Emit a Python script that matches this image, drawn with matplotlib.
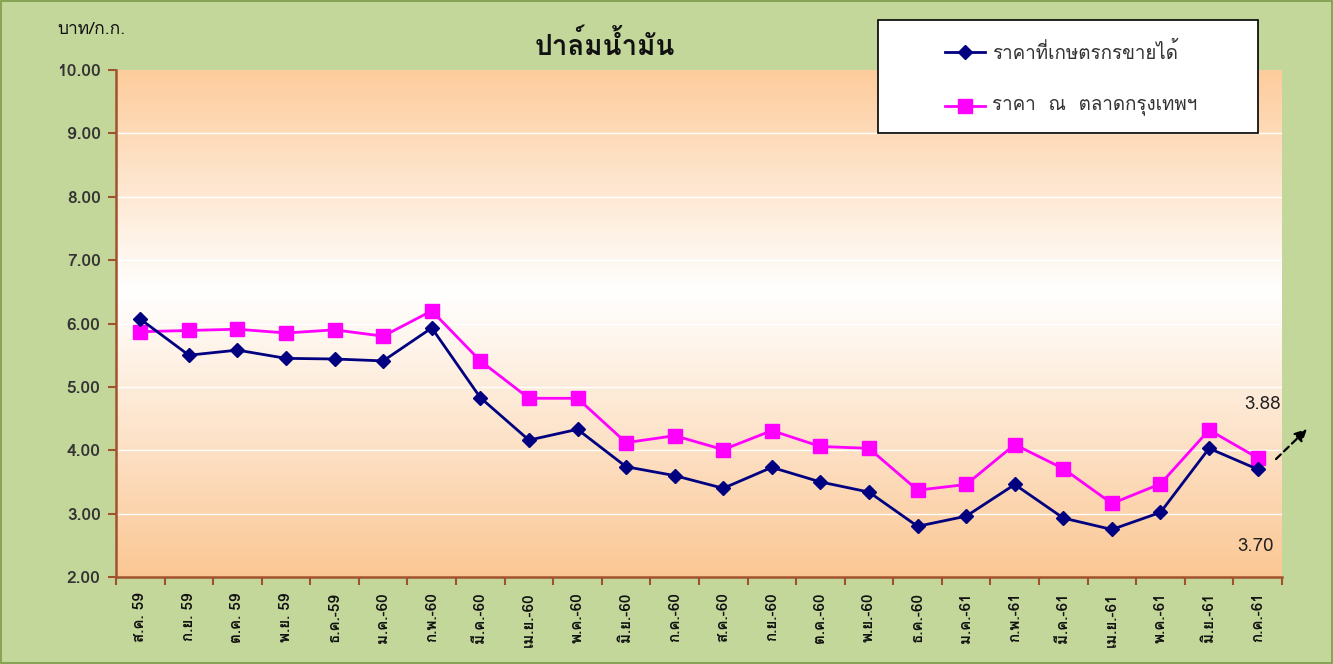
import matplotlib
matplotlib.use("Agg")
import matplotlib.pyplot as plt
import numpy as np
from matplotlib.colors import LinearSegmentedColormap
from matplotlib.lines import Line2D
from matplotlib.patches import Rectangle

plt.rcParams["font.family"] = ["Loma", "DejaVu Sans"]

MONTHS = [
    "ส.ค. 59", "ก.ย. 59", "ต.ค. 59", "พ.ย. 59", "ธ.ค.-59", "ม.ค.-60",
    "ก.พ.-60", "มี.ค.-60", "เม.ย.-60", "พ.ค.-60", "มิ.ย.-60", "ก.ค.-60",
    "ส.ค.-60", "ก.ย.-60", "ต.ค.-60", "พ.ย.-60", "ธ.ค.-60", "ม.ค.-61",
    "ก.พ.-61", "มี.ค.-61", "เม.ย.-61", "พ.ค.-61", "มิ.ย.-61", "ก.ค.-61",
]
FARM_PRICE = [
    6.07, 5.50, 5.58, 5.45, 5.44, 5.41, 5.93, 4.83, 4.16, 4.33, 3.74, 3.60,
    3.40, 3.73, 3.50, 3.34, 2.80, 2.96, 3.46, 2.93, 2.75, 3.02, 4.03, 3.70,
]
BKK_PRICE = [
    5.87, 5.89, 5.91, 5.85, 5.90, 5.80, 6.20, 5.41, 4.82, 4.82, 4.12, 4.23,
    4.01, 4.31, 4.06, 4.03, 3.37, 3.46, 4.09, 3.71, 3.16, 3.47, 4.32, 3.88,
]
SERIES_LABELS = ["ราคาที่เกษตรกรขายได้", "ราคา  ณ  ตลาดกรุงเทพฯ"]
Y_TICKS = [2, 3, 4, 5, 6, 7, 8, 9, 10]

BG_GREEN = "#C4D79B"
AXIS_BROWN = "#A0522D"
NAVY = "#000080"
MAGENTA = "#FF00FF"


def main():
    fig = plt.figure(figsize=(13.33, 6.64), dpi=100, facecolor=BG_GREEN)
    fig.patches.append(Rectangle((0.001, 0.002), 0.998, 0.996, transform=fig.transFigure,
                                 fill=False, edgecolor="#7F9A48", linewidth=1.2))

    ax = fig.add_axes([0.0870, 0.1310, 0.8747, 0.7636])
    x = np.arange(len(MONTHS))
    ax.set_xlim(-0.5, len(MONTHS) - 0.5)
    ax.set_ylim(2, 10)

    # orange -> white -> orange gradient background
    cmap = LinearSegmentedColormap.from_list(
        "bg", [(0.0, "#FBC794"), (0.56, "#FFFFFF"), (1.0, "#FDCC9C")])
    grad = np.linspace(0, 1, 256).reshape(-1, 1)
    ax.imshow(grad, cmap=cmap, aspect="auto", origin="lower",
              extent=[-0.5, len(MONTHS) - 0.5, 2, 10], zorder=0)

    for yv in Y_TICKS[1:-1]:
        ax.axhline(yv, color="white", linewidth=1, zorder=1)

    ax.plot(x, FARM_PRICE, color=NAVY, linewidth=2, marker="D", markersize=7,
            zorder=4)
    ax.plot(x, BKK_PRICE, color=MAGENTA, linewidth=2, marker="s", markersize=10,
            zorder=3)

    for side in ["top", "right"]:
        ax.spines[side].set_visible(False)
    for side in ["left", "bottom"]:
        ax.spines[side].set_color(AXIS_BROWN)
        ax.spines[side].set_linewidth(1.8)

    ax.set_yticks(Y_TICKS)
    ax.set_yticklabels([f"{v:.2f}" for v in Y_TICKS], fontsize=12.5,
                       fontweight="bold", color="#333333")
    ax.tick_params(axis="y", colors=AXIS_BROWN, length=6, width=1.5,
                   labelcolor="#333333", pad=5)

    ax.set_xticks(x)
    ax.set_xticklabels(MONTHS, rotation=90, fontsize=11, fontweight="bold",
                       color="#111111")
    ax.set_xticks(np.arange(len(MONTHS) + 1) - 0.5, minor=True)
    ax.tick_params(axis="x", which="major", length=0, pad=11)
    ax.tick_params(axis="x", which="minor", colors=AXIS_BROWN, length=6,
                   width=1.5)

    fig.text(0.043, 0.955, "บาท/ก.ก.", fontsize=12.5, color="#111111",
             va="center", ha="left")
    fig.text(0.454, 0.932, "ปาล์มน้ำมัน", fontsize=20, fontweight="bold",
             ha="center", va="center", color="#111111")

    # legend box
    fig.patches.append(Rectangle((0.6587, 0.7997), 0.2851, 0.1702,
                                 transform=fig.transFigure, facecolor="white",
                                 edgecolor="black", linewidth=1.2, zorder=5))
    legend_rows = [
        (0.9217, NAVY, "D", 7, SERIES_LABELS[0]),
        (0.8404, MAGENTA, "s", 10, SERIES_LABELS[1]),
    ]
    for yy, col, mk, ms, label in legend_rows:
        fig.add_artist(Line2D([0.7089, 0.7239, 0.7389], [yy, yy, yy],
                              transform=fig.transFigure, color=col,
                              linewidth=2, marker=mk, markersize=ms,
                              markevery=[1], zorder=6))
        fig.text(0.7442, yy, label, fontsize=13.5, va="center", ha="left",
                 color="#333333", zorder=6)

    ax.text(1263 / 1333, 1 - 404 / 664, f"{BKK_PRICE[-1]:.2f}",
            transform=fig.transFigure, fontsize=13.5, color="#222222",
            ha="center", va="center")
    ax.text(1255 / 1333, 1 - 546 / 664, f"{FARM_PRICE[-1]:.2f}",
            transform=fig.transFigure, fontsize=13.5, color="#222222",
            ha="center", va="center")
    ax.annotate("", xy=(1309 / 1333, 1 - 427 / 664),
                xytext=(1274 / 1333, 1 - 461 / 664),
                xycoords="figure fraction", textcoords="figure fraction",
                arrowprops=dict(arrowstyle="-|>", linestyle=(0, (3, 2)),
                                color="black", linewidth=1.6,
                                mutation_scale=18))

    fig.savefig("out.png", dpi=100, facecolor=BG_GREEN)
    plt.close(fig)


if __name__ == "__main__":
    main()
